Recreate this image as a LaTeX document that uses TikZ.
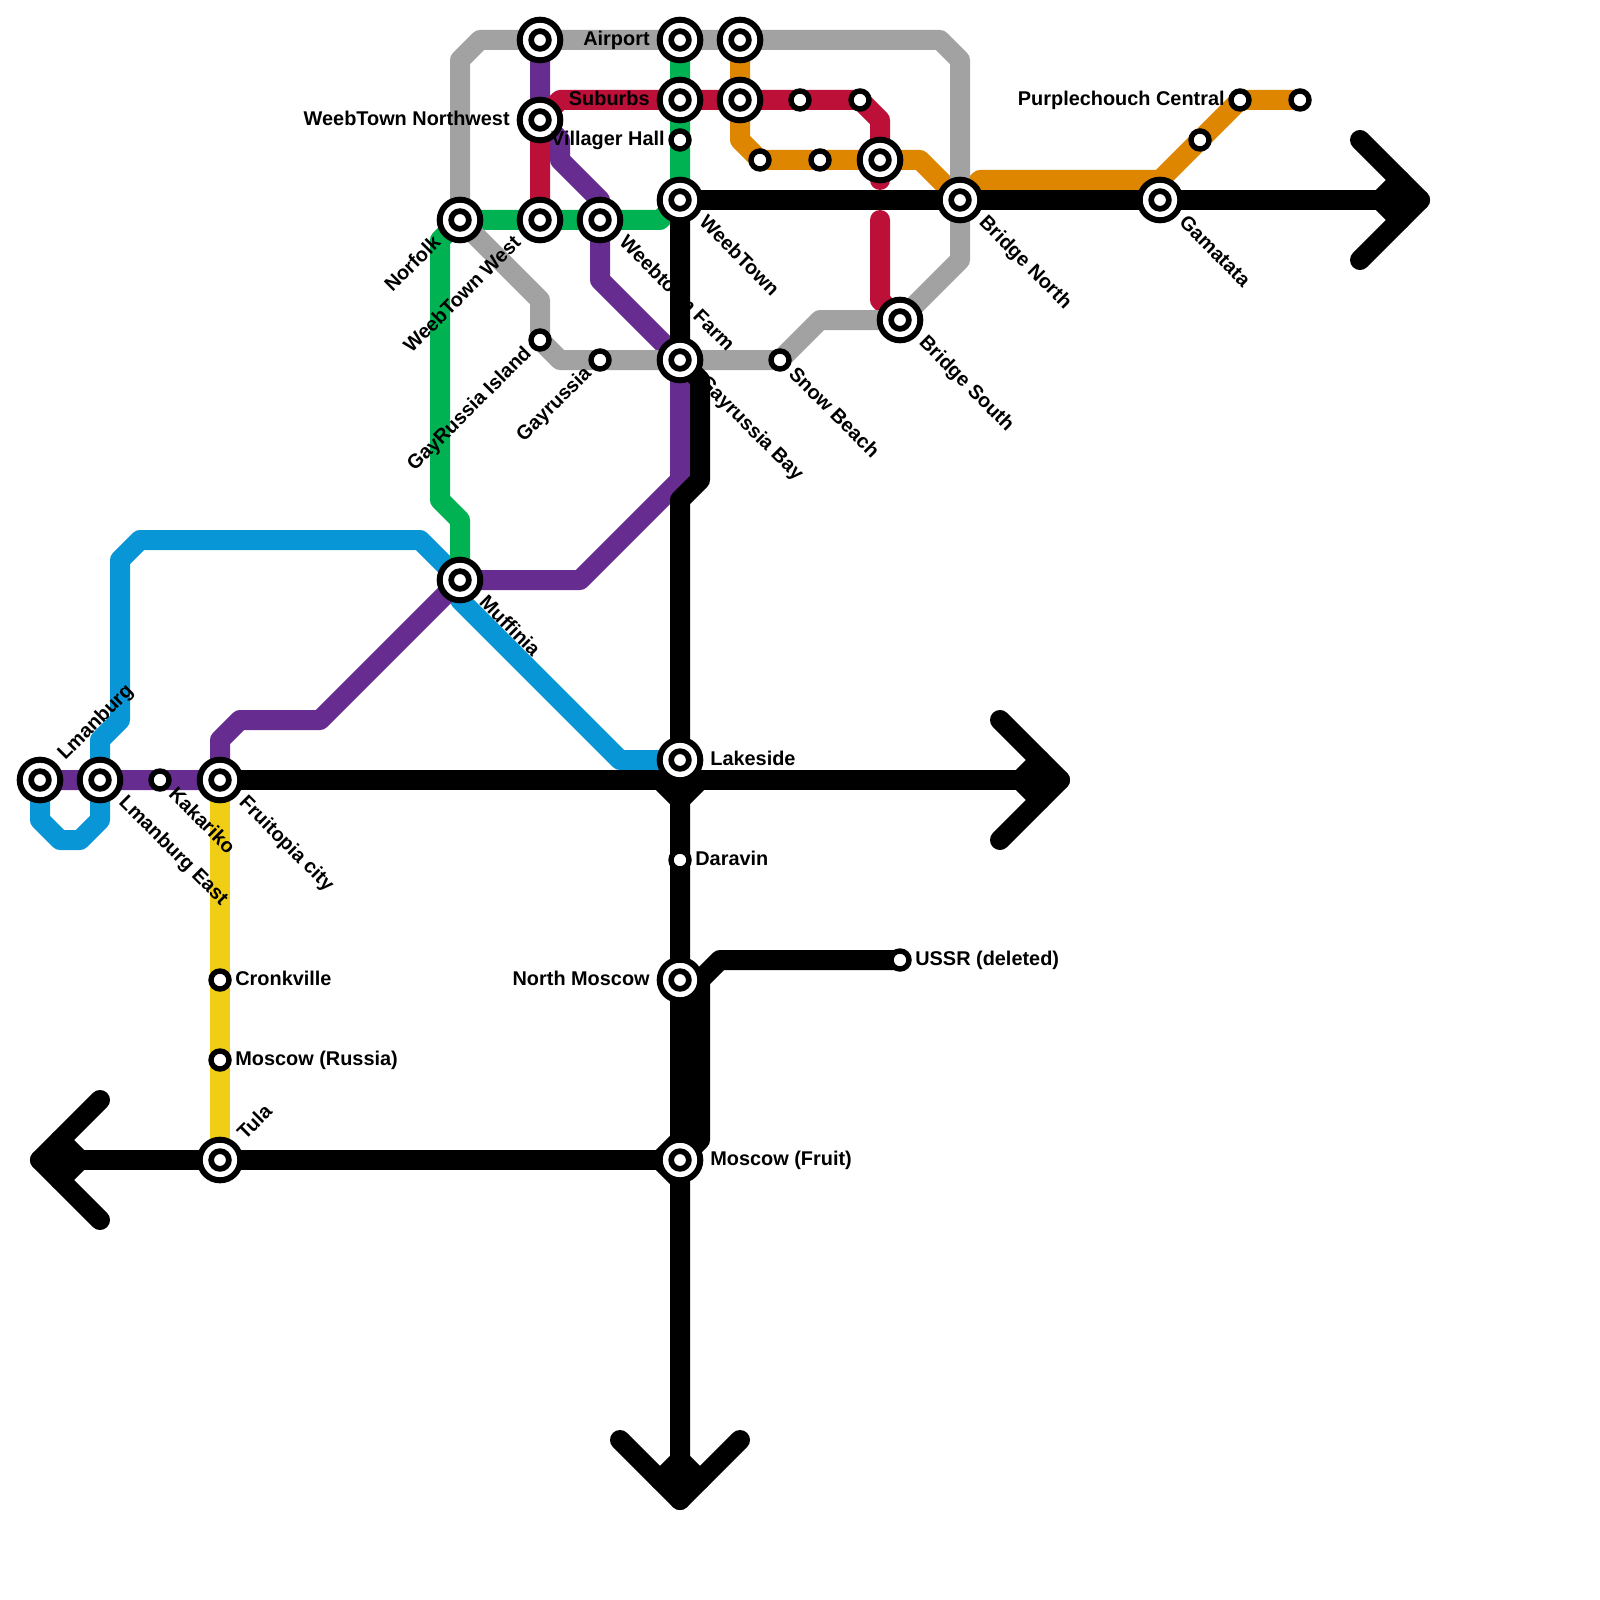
\documentclass[tikz,border=0pt]{standalone}
\usepackage{fontspec}
\setmainfont{Liberation Sans}
\pgfdeclarelayer{lines}
\pgfsetlayers{lines,main}
\definecolor{linegray}{HTML}{A2A2A2}
\definecolor{linegreen}{HTML}{00B251}
\definecolor{linered}{HTML}{BD1038}
\definecolor{lineorange}{HTML}{DF8600}
\definecolor{linepurple}{HTML}{662C90}
\definecolor{lineblue}{HTML}{0896D7}
\definecolor{lineyellow}{HTML}{F0CE15}
\tikzset{
  metro/.style={line width=.4cm, line cap=round, line join=round},
  bigstn/.style={circle, draw=black, fill=white, line width=.12cm, inner sep=0pt, outer sep=0pt, minimum size=.812cm,
    path picture={\draw[line width=.114cm] (path picture bounding box.center) circle (.177cm);}},
  smallstn/.style={circle, draw=black, fill=white, line width=.108cm, inner sep=0pt, outer sep=0pt, minimum size=.36cm},
  stnlbl/.style={inner sep=0pt, font=\fontsize{11.32}{13}\selectfont\bfseries},
  lblE/.style={stnlbl, anchor=base west, xshift=.6cm, yshift=-.105cm},
  lblW/.style={stnlbl, anchor=base east, xshift=-.6cm, yshift=-.105cm},
  lblEs/.style={stnlbl, anchor=base west, xshift=.3cm, yshift=-.105cm},
  lblWs/.style={stnlbl, anchor=base east, xshift=-.3cm, yshift=-.105cm},
  lblSE/.style={stnlbl, anchor=base west, xshift=.36cm, yshift=-.47cm, rotate=-45},
  lblSEs/.style={stnlbl, anchor=base west, xshift=.15cm, yshift=-.3cm, rotate=-45},
  lblNE/.style={stnlbl, anchor=base west, xshift=.5cm, yshift=.38cm, rotate=45},
  lblSW/.style={stnlbl, anchor=base east, xshift=-.36cm, yshift=-.47cm, rotate=45},
  lblSWs/.style={stnlbl, anchor=base east, xshift=-.15cm, yshift=-.285cm, rotate=45},
}
\begin{document}
\begin{tikzpicture}[x=.4cm, y=-.4cm]
  \useasboundingbox (0,0) rectangle (80,80);
  % Stations
  \foreach \stn/\x/\y in {lmanburg/2/39, lmanburgeast/5/39, fruitopia/11/39, tula/11/58,
      muffinia/23/29, norfolk/23/11, weebtownwest/27/11, weebtownfarm/30/11, weebtown/34/10,
      gayrussiabay/34/18, weebtop/27/2, weebtownnw/27/6, airport/34/2, suburbs/34/5,
      airporteast/37/2, suburbseast/37/5, crossing/44/8, bridgenorth/48/10, bridgesouth/45/16,
      gamatata/58/10, lakeside/34/38, northmoscow/34/49, moscowfruit/34/58}
    \node[bigstn] (\stn) at (\x,\y) {};
  \foreach \stn/\x/\y in {kakariko/8/39, cronkville/11/49, moscowrussia/11/53, gayrussiaisland/27/17,
      gayrussia/30/18, villagerhall/34/7, snowbeach/39/18, daravin/34/43, ussr/45/48,
      redone/40/5, redtwo/43/5, orangeone/38/8, orangetwo/41/8, orangethree/60/7,
      purplechouch/62/5, orangeend/65/5}
    \node[smallstn] (\stn) at (\x,\y) {};
  % Lines
  \begin{pgfonlayer}{lines}
    \draw[metro, lineyellow] (fruitopia.center) -- (tula.center);
    \draw[metro, lineblue] (lmanburg.center) -- (2,41) -- (3,42) -- (4,42) -- (5,41) -- (lmanburgeast.center)
      -- (5,37) -- (6,36) -- (6,28) -- (7,27) -- (21,27) -- (muffinia.center) -- (23,30) -- (31,38) -- (lakeside.center);
    \draw[metro, linegreen] (airport.center) -- (weebtown.center) -- (33,11) -- (norfolk.center)
      -- (22,12) -- (22,25) -- (23,26) -- (muffinia.center);
    \draw[metro, linepurple] (lmanburg.center) -- (fruitopia.center) -- (11,37) -- (12,36) -- (16,36)
      -- (muffinia.center) -- (29,29) -- (34,24) -- (gayrussiabay.center) -- (30,14) -- (weebtownfarm.center)
      -- (30,10) -- (28,8) -- (28,7) -- (weebtownnw.center) -- (weebtop.center);
    \draw[metro, linered] (weebtownwest.center) -- (weebtownnw.center) -- (28,5) -- (redtwo.center)
      -- (44,6) -- (44,9);
    \draw[metro, linered] (44,11) -- (44,15) -- (bridgesouth.center);
    \draw[metro, lineorange] (airporteast.center) -- (37,7) -- (orangeone.center) -- (46,8) -- (bridgenorth.center)
      -- (49,9) -- (58,9) -- (purplechouch.center) -- (orangeend.center);
    \draw[metro, linegray] (norfolk.center) -- (23,3) -- (24,2) -- (47,2) -- (48,3) -- (48,13) -- (bridgesouth.center)
      -- (41,16) -- (snowbeach.center) -- (28,18) -- (gayrussiaisland.center) -- (27,15) -- (norfolk.center);
    % Black lines with arrow ends
    \draw[metro, black] (weebtown.center) -- (gayrussiabay.center) -- (35,19) -- (35,24) -- (34,25) -- (34,75);
    \draw[metro, black] (31,72) -- (34,75) -- (37,72);
    \draw[metro, black] (33,74) -- (34,73) -- (35,74);
    \draw[metro, black] (weebtown.center) -- (71,10);
    \draw[metro, black] (68,7) -- (71,10) -- (68,13);
    \draw[metro, black] (70,9) -- (69,10) -- (70,11);
    \draw[metro, black] (fruitopia.center) -- (53,39);
    \draw[metro, black] (50,36) -- (53,39) -- (50,42);
    \draw[metro, black] (52,38) -- (51,39) -- (52,40);
    \draw[metro, black] (33,39) -- (34,40) -- (35,39);
    \draw[metro, black] (ussr.center) -- (36,48) -- (35,49) -- (35,57) -- (moscowfruit.center);
    \draw[metro, black] (2,58) -- (33,58);
    \draw[metro, black] (34,57) -- (33,58) -- (34,59);
    \draw[metro, black] (5,55) -- (2,58) -- (5,61);
    \draw[metro, black] (3,57) -- (4,58) -- (3,59);
  \end{pgfonlayer}
  % Station labels
  \foreach \stn/\lab in {lakeside/Lakeside, moscowfruit/Moscow (Fruit)}
    \node[lblE] (\stn-lbl) at (\stn) {\lab};
  \foreach \stn/\lab in {airport/Airport, suburbs/Suburbs, weebtownnw/WeebTown Northwest, northmoscow/North Moscow}
    \node[lblW] (\stn-lbl) at (\stn) {\lab};
  \foreach \stn/\lab in {daravin/Daravin, cronkville/Cronkville, moscowrussia/Moscow (Russia), ussr/USSR (deleted)}
    \node[lblEs] (\stn-lbl) at (\stn) {\lab};
  \foreach \stn/\lab in {villagerhall/Villager Hall, purplechouch/Purplechouch Central}
    \node[lblWs] (\stn-lbl) at (\stn) {\lab};
  \foreach \stn/\lab in {lmanburgeast/Lmanburg East, fruitopia/Fruitopia city, muffinia/Muffinia, weebtownfarm/Weebtown Farm,
      weebtown/WeebTown, gayrussiabay/Gayrussia Bay, bridgenorth/Bridge North, bridgesouth/Bridge South, gamatata/Gamatata}
    \node[lblSE] (\stn-lbl) at (\stn) {\lab};
  \foreach \stn/\lab in {kakariko/Kakariko, snowbeach/Snow Beach}
    \node[lblSEs] (\stn-lbl) at (\stn) {\lab};
  \foreach \stn/\lab in {lmanburg/Lmanburg, tula/Tula}
    \node[lblNE] (\stn-lbl) at (\stn) {\lab};
  \foreach \stn/\lab in {norfolk/Norfolk, weebtownwest/WeebTown West}
    \node[lblSW] (\stn-lbl) at (\stn) {\lab};
  \foreach \stn/\lab in {gayrussiaisland/GayRussia Island, gayrussia/Gayrussia}
    \node[lblSWs] (\stn-lbl) at (\stn) {\lab};
\end{tikzpicture}
\end{document}
